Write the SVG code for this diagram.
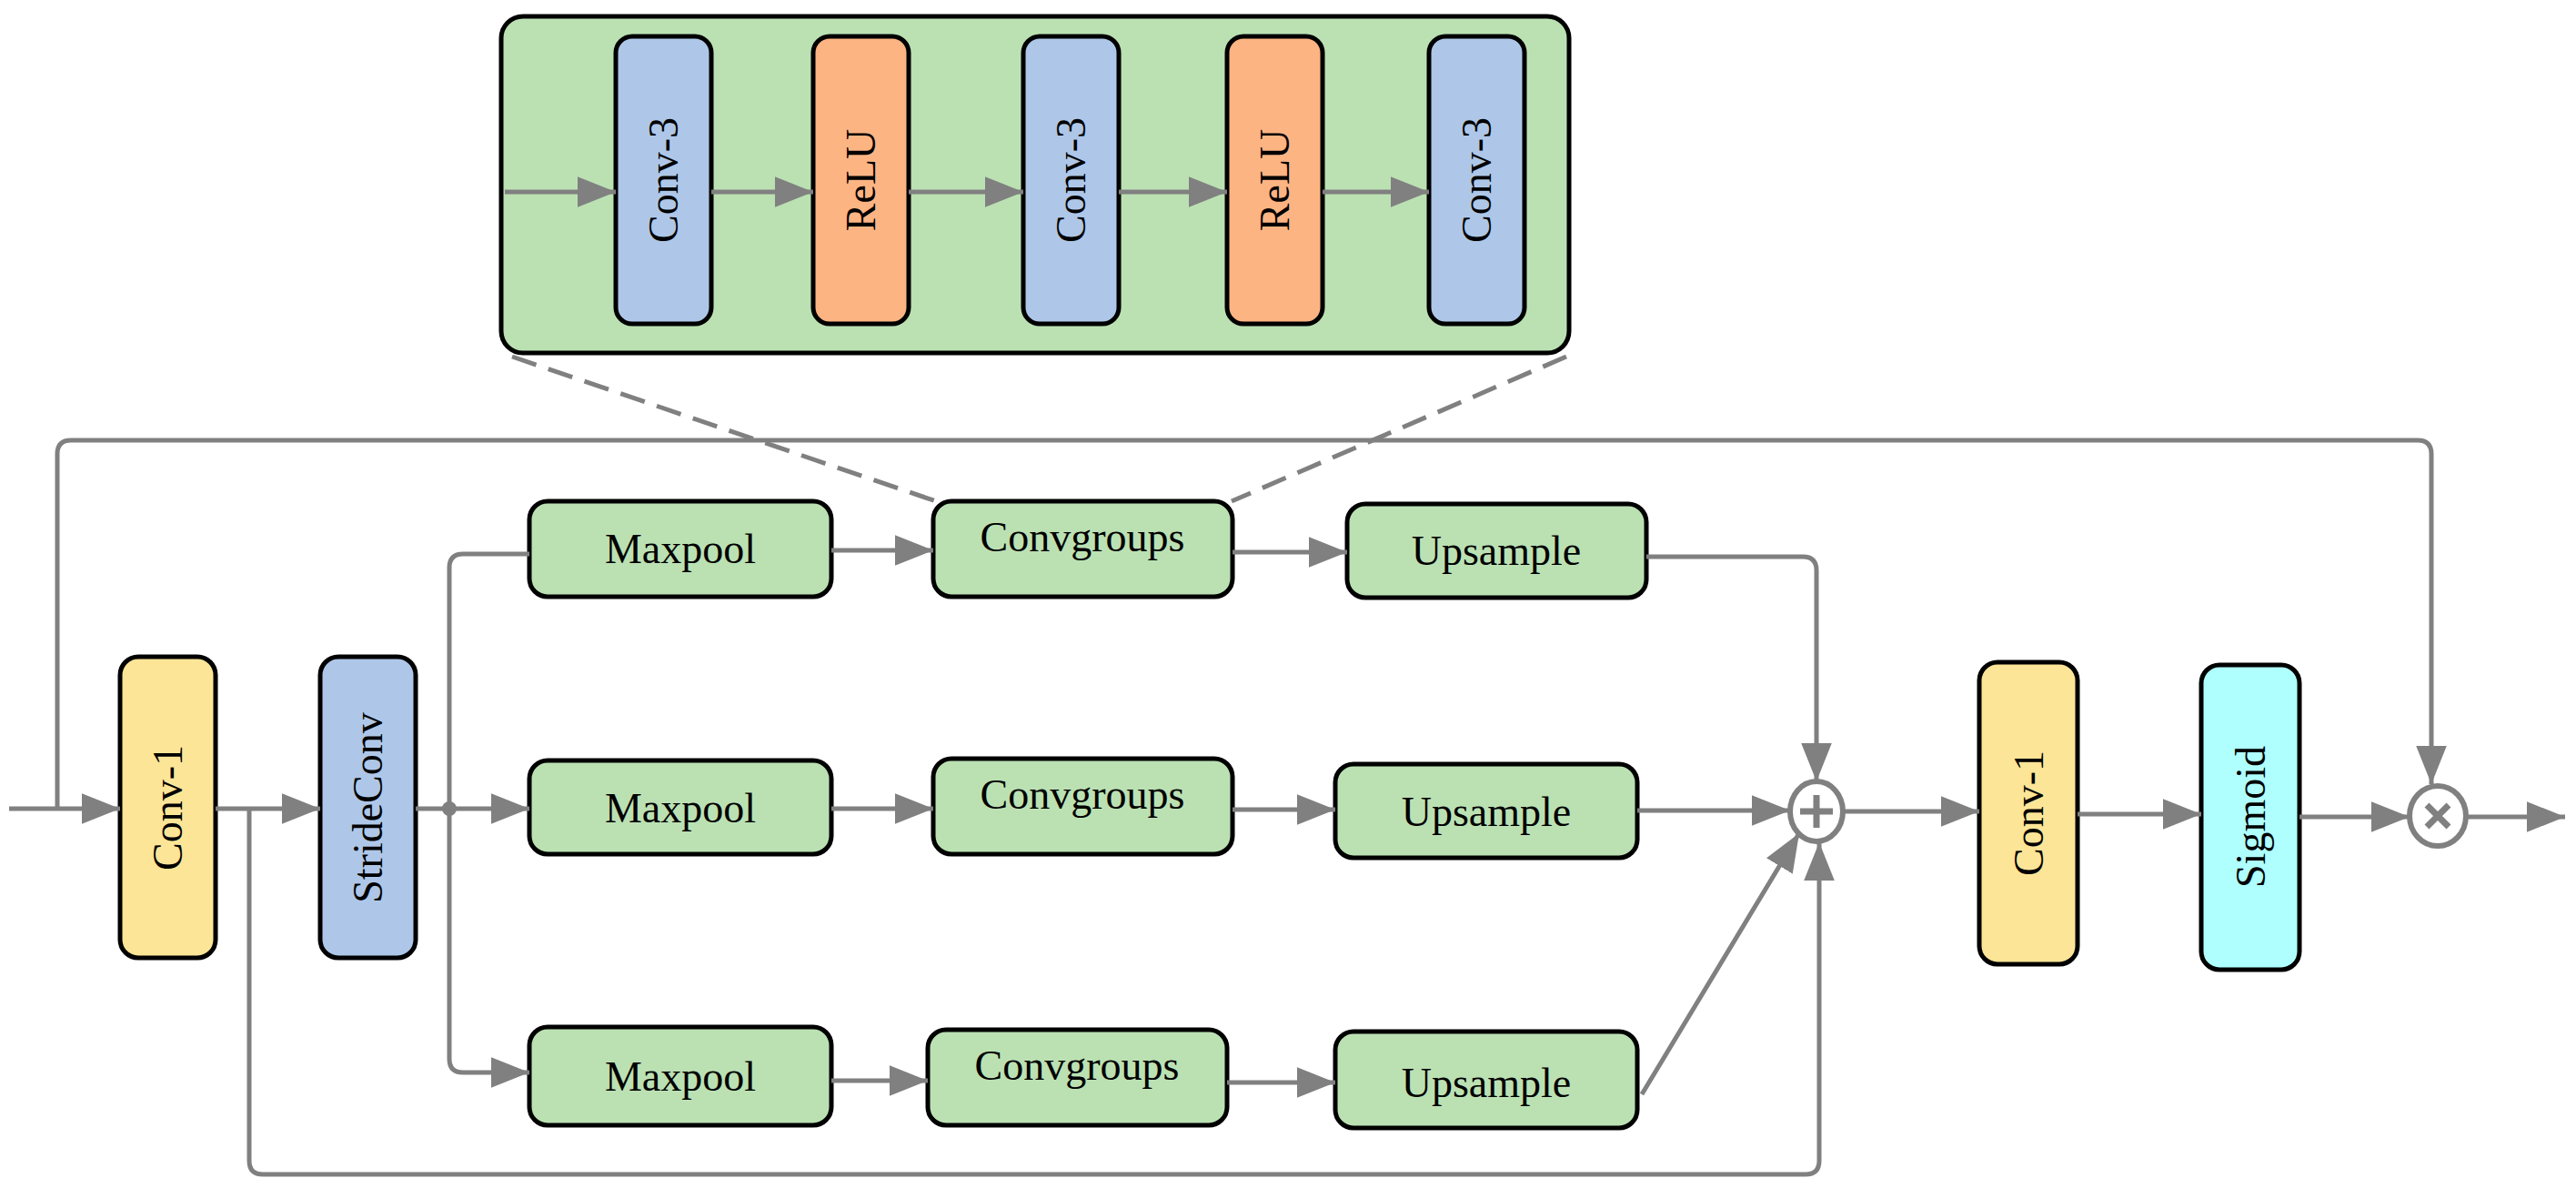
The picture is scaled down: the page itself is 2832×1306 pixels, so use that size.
<svg xmlns="http://www.w3.org/2000/svg" width="2832" height="1306" viewBox="0 0 2832 1306">
<style>
.n{stroke:#000;stroke-width:5}
.g{fill:#BBE1B3}.b{fill:#AEC7E8}.o{fill:#FDB483}.y{fill:#FDE597}.c{fill:#AFFFFF}
text{font-family:"Liberation Serif","Times New Roman",serif;font-size:46px;fill:#000;text-anchor:middle;dominant-baseline:central}
.e{fill:none;stroke:#808080;stroke-width:5}
.d{stroke-dasharray:28 14}
</style>
<defs><marker id="a" markerWidth="10" markerHeight="8" refX="9.5" refY="4" orient="auto" markerUnits="userSpaceOnUse" viewBox="0 0 10 8" style="overflow:visible"><path d="M0,0 L10,4 L0,8 Z" fill="#808080" transform="scale(4.2)" /></marker>
<marker id="m" viewBox="0 0 10 8" refX="10" refY="4" markerWidth="42" markerHeight="34" markerUnits="userSpaceOnUse" orient="auto"><path d="M0,0 L10,4 L0,8 Z" fill="#808080"/></marker></defs>
<g id="detail"><rect class="n g" x="551" y="18" width="1174" height="370" rx="24"/></g>
<g id="c3a"><rect class="n b" x="677" y="40" width="105" height="316" rx="18"/><text transform="translate(729,198) rotate(-90)">Conv-3</text></g>
<g id="r1"><rect class="n o" x="894" y="40" width="105" height="316" rx="18"/><text transform="translate(946,198) rotate(-90)">ReLU</text></g>
<g id="c3b"><rect class="n b" x="1125" y="40" width="105" height="316" rx="18"/><text transform="translate(1177,198) rotate(-90)">Conv-3</text></g>
<g id="r2"><rect class="n o" x="1349" y="40" width="105" height="316" rx="18"/><text transform="translate(1401,198) rotate(-90)">ReLU</text></g>
<g id="c3c"><rect class="n b" x="1571" y="40" width="105" height="316" rx="18"/><text transform="translate(1623,198) rotate(-90)">Conv-3</text></g>
<g id="conv1a"><rect class="n y" x="132" y="722" width="105" height="331" rx="20"/><text transform="translate(184,888) rotate(-90)">Conv-1</text></g>
<g id="stride"><rect class="n b" x="352" y="722" width="105" height="331" rx="20"/><text transform="translate(404,888) rotate(-90)">StrideConv</text></g>
<g id="mp1"><rect class="n g" x="582" y="551" width="332" height="105" rx="20"/><text x="748" y="603">Maxpool</text></g>
<g id="mp2"><rect class="n g" x="582" y="836" width="332" height="103" rx="20"/><text x="748" y="888">Maxpool</text></g>
<g id="mp3"><rect class="n g" x="582" y="1129" width="332" height="108" rx="20"/><text x="748" y="1183">Maxpool</text></g>
<g id="cg1"><rect class="n g" x="1026" y="551" width="329" height="105" rx="20"/><text x="1190" y="590">Convgroups</text></g>
<g id="cg2"><rect class="n g" x="1026" y="834" width="329" height="105" rx="20"/><text x="1190" y="873">Convgroups</text></g>
<g id="cg3"><rect class="n g" x="1020" y="1132" width="329" height="105" rx="20"/><text x="1184" y="1171">Convgroups</text></g>
<g id="up1"><rect class="n g" x="1481" y="554" width="329" height="103" rx="20"/><text x="1645" y="605">Upsample</text></g>
<g id="up2"><rect class="n g" x="1468" y="840" width="332" height="103" rx="20"/><text x="1634" y="892">Upsample</text></g>
<g id="up3"><rect class="n g" x="1468" y="1134" width="332" height="106" rx="20"/><text x="1634" y="1190">Upsample</text></g>
<g id="plus"><ellipse cx="1997" cy="892" rx="29" ry="33" fill="#fff" stroke="#808080" stroke-width="6"/><path d="M1997,874 V910 M1979,892 H2015" stroke="#808080" stroke-width="7"/></g>
<g id="conv1b"><rect class="n y" x="2176" y="728" width="108" height="332" rx="20"/><text transform="translate(2230,894) rotate(-90)">Conv-1</text></g>
<g id="sig"><rect class="n c" x="2420" y="731" width="108" height="335" rx="20"/><text transform="translate(2474,898) rotate(-90)">Sigmoid</text></g>
<g id="times"><ellipse cx="2680" cy="897" rx="31" ry="33" fill="#fff" stroke="#808080" stroke-width="6"/><path d="M2668,885 L2692,909 M2692,885 L2668,909" stroke="#808080" stroke-width="7"/></g>
<g id="edges">
<path class="e" d="M555,211 H677" marker-end="url(#m)"/>
<path class="e" d="M782,211 H894" marker-end="url(#m)"/>
<path class="e" d="M999,211 H1125" marker-end="url(#m)"/>
<path class="e" d="M1230,211 H1349" marker-end="url(#m)"/>
<path class="e" d="M1454,211 H1571" marker-end="url(#m)"/>
<path class="e d" d="M563,392 L1029,551"/>
<path class="e d" d="M1722,392 L1354,551"/>
<path class="e" d="M10,889 H132" marker-end="url(#m)"/>
<path class="e" d="M63,889 V499 Q63,484 78,484 H2658 Q2673,484 2673,499 V862" marker-end="url(#m)"/>
<path class="e" d="M237,889 H352" marker-end="url(#m)"/>
<path class="e" d="M274,889 V1276 Q274,1291 289,1291 H1985 Q2000,1291 2000,1276 V926" marker-end="url(#m)"/>
<path class="e" d="M457,889 H582" marker-end="url(#m)"/>
<circle cx="494" cy="889" r="8" fill="#808080"/>
<path class="e" d="M582,609 H509 Q494,609 494,624 V1164 Q494,1179 509,1179 H582" marker-end="url(#m)"/>
<path class="e" d="M914,605 H1026" marker-end="url(#m)"/>
<path class="e" d="M914,889 H1026" marker-end="url(#m)"/>
<path class="e" d="M914,1188 H1020" marker-end="url(#m)"/>
<path class="e" d="M1355,607 H1481" marker-end="url(#m)"/>
<path class="e" d="M1355,890 H1468" marker-end="url(#m)"/>
<path class="e" d="M1349,1190 H1468" marker-end="url(#m)"/>
<path class="e" d="M1810,612 H1982 Q1997,612 1997,627 V859" marker-end="url(#m)"/>
<path class="e" d="M1800,891 H1968" marker-end="url(#m)"/>
<path class="e" d="M1805,1203 L1978,916" marker-end="url(#m)"/>
<path class="e" d="M2026,892 H2176" marker-end="url(#m)"/>
<path class="e" d="M2284,895 H2420" marker-end="url(#m)"/>
<path class="e" d="M2528,898 H2649" marker-end="url(#m)"/>
<path class="e" d="M2711,898 H2820" marker-end="url(#m)"/>
</g>
</svg>
